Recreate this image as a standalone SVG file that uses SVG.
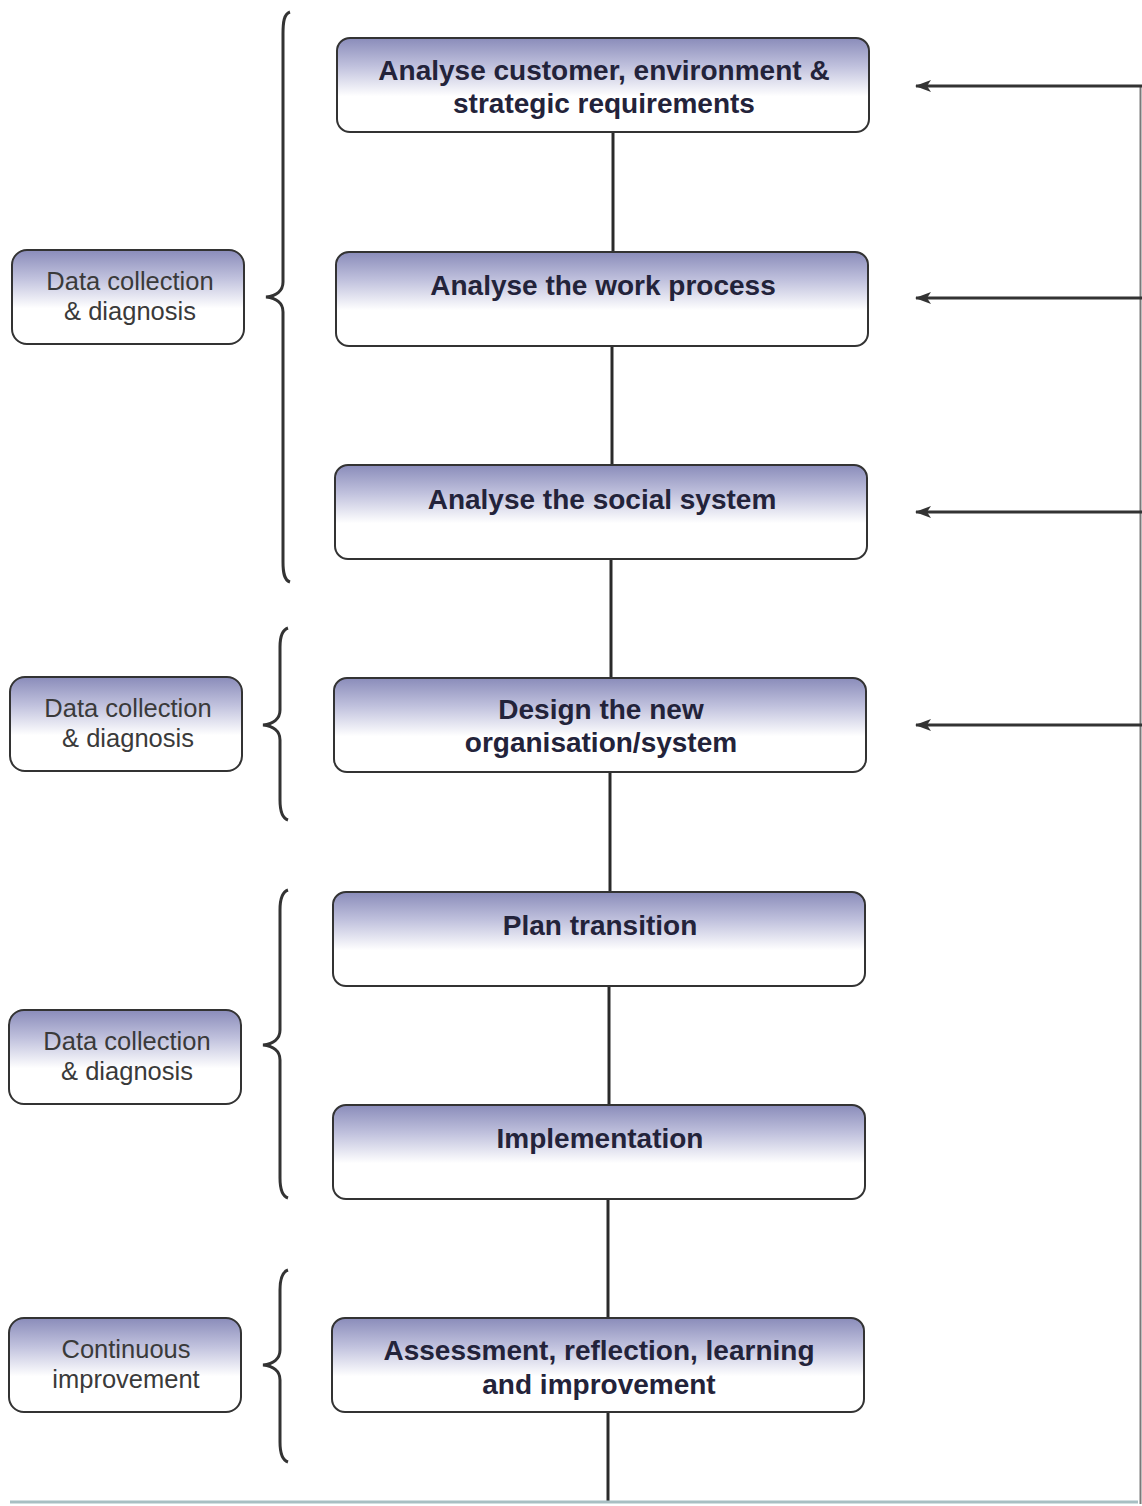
<svg xmlns="http://www.w3.org/2000/svg" width="1142" height="1506" viewBox="0 0 1142 1506">
  <defs>
    <linearGradient id="boxFill" x1="0" y1="0" x2="0" y2="1">
      <stop offset="0" stop-color="#8a8cba"/>
      <stop offset="0.3" stop-color="#c0c1dd"/>
      <stop offset="0.62" stop-color="#ffffff"/>
      <stop offset="1" stop-color="#ffffff"/>
    </linearGradient>
    <!-- arrowhead drawn along +x; orient="auto" turns it with the line -->
    <marker id="arrowHead" viewBox="0 0 16 12" refX="15" refY="6" markerWidth="16" markerHeight="12" markerUnits="userSpaceOnUse" orient="auto">
      <path d="M0,0 L16,6 L0,12 L4,6 Z" fill="#333"/>
    </marker>
    <style>
      .box { fill: url(#boxFill); stroke: #333; stroke-width: 2; }
      .main { font-family: "Liberation Sans", Arial, sans-serif; font-weight: bold; font-size: 28px; fill: #23233a; text-anchor: middle; }
      .side { font-family: "Liberation Sans", Arial, sans-serif; font-size: 25.5px; fill: #3a3a3a; text-anchor: middle; }
      .link { stroke: #2a2a2a; stroke-width: 3; fill: none; }
      .brace { stroke: #333; stroke-width: 3; fill: none; }
      .feed { stroke: #333; stroke-width: 3; fill: none; marker-end: url(#arrowHead); }
    </style>
  </defs>
  <rect width="1142" height="1506" fill="#ffffff"/>

  <!-- connectors -->
  <g id="connectors">
    <line class="link" x1="613" y1="132" x2="613" y2="252"/>
    <line class="link" x1="612" y1="346" x2="612" y2="465"/>
    <line class="link" x1="611" y1="559" x2="611" y2="678"/>
    <line class="link" x1="610" y1="772" x2="610" y2="892"/>
    <line class="link" x1="609" y1="986" x2="609" y2="1105"/>
    <line class="link" x1="608" y1="1199" x2="608" y2="1318"/>
    <line class="link" x1="608" y1="1412" x2="608" y2="1502"/>
    <!-- feedback loop -->
    <line x1="10" y1="1502" x2="1138" y2="1502" stroke="#a8bfc3" stroke-width="3"/>
    <line x1="1140.5" y1="85" x2="1140.5" y2="1504" stroke="#7a7a7a" stroke-width="2"/>
    <line class="feed" x1="1142" y1="86" x2="916" y2="86"/>
    <line class="feed" x1="1142" y1="298" x2="916" y2="298"/>
    <line class="feed" x1="1142" y1="512" x2="916" y2="512"/>
    <line class="feed" x1="1142" y1="725" x2="916" y2="725"/>
  </g>

  <!-- braces -->
  <g id="braces">
    <path class="brace" d="M290,12 C284,14 283,22 283,34 L283,282 C283,291 276,296 266,297 C276,298 283,303 283,312 L283,562 C283,572 284,580 290,582"/>
    <path class="brace" d="M288,628 C282,630 280,637 280,647 L280,710 C280,719 273,724 263,725 C273,726 280,731 280,740 L280,800 C280,810 282,818 288,820"/>
    <path class="brace" d="M288,890 C282,892 280,900 280,910 L280,1030 C280,1039 273,1044 263,1045 C273,1046 280,1051 280,1060 L280,1178 C280,1188 282,1196 288,1198"/>
    <path class="brace" d="M288,1270 C282,1272 280,1280 280,1290 L280,1350 C280,1359 273,1364 263,1365 C273,1366 280,1371 280,1380 L280,1442 C280,1452 282,1460 288,1462"/>
  </g>

  <!-- main steps -->
  <g id="step1">
    <rect class="box" x="337" y="38" width="532" height="94" rx="13"/>
    <text class="main" x="604" y="80">Analyse customer, environment &amp;</text>
    <text class="main" x="604" y="113">strategic requirements</text>
  </g>
  <g id="step2">
    <rect class="box" x="336" y="252" width="532" height="94" rx="13"/>
    <text class="main" x="603" y="295">Analyse the work process</text>
  </g>
  <g id="step3">
    <rect class="box" x="335" y="465" width="532" height="94" rx="13"/>
    <text class="main" x="602" y="509">Analyse the social system</text>
  </g>
  <g id="step4">
    <rect class="box" x="334" y="678" width="532" height="94" rx="13"/>
    <text class="main" x="601" y="719">Design the new</text>
    <text class="main" x="601" y="752">organisation/system</text>
  </g>
  <g id="step5">
    <rect class="box" x="333" y="892" width="532" height="94" rx="13"/>
    <text class="main" x="600" y="935">Plan transition</text>
  </g>
  <g id="step6">
    <rect class="box" x="333" y="1105" width="532" height="94" rx="13"/>
    <text class="main" x="600" y="1148">Implementation</text>
  </g>
  <g id="step7">
    <rect class="box" x="332" y="1318" width="532" height="94" rx="13"/>
    <text class="main" x="599" y="1360">Assessment, reflection, learning</text>
    <text class="main" x="599" y="1394">and improvement</text>
  </g>

  <!-- phase labels -->
  <g id="phase1">
    <rect class="box" x="12" y="250" width="232" height="94" rx="15"/>
    <text class="side" x="130" y="290">Data collection</text>
    <text class="side" x="130" y="320">&amp; diagnosis</text>
  </g>
  <g id="phase2">
    <rect class="box" x="10" y="677" width="232" height="94" rx="15"/>
    <text class="side" x="128" y="717">Data collection</text>
    <text class="side" x="128" y="747">&amp; diagnosis</text>
  </g>
  <g id="phase3">
    <rect class="box" x="9" y="1010" width="232" height="94" rx="15"/>
    <text class="side" x="127" y="1050">Data collection</text>
    <text class="side" x="127" y="1080">&amp; diagnosis</text>
  </g>
  <g id="phase4">
    <rect class="box" x="9" y="1318" width="232" height="94" rx="15"/>
    <text class="side" x="126" y="1358">Continuous</text>
    <text class="side" x="126" y="1388">improvement</text>
  </g>
</svg>
